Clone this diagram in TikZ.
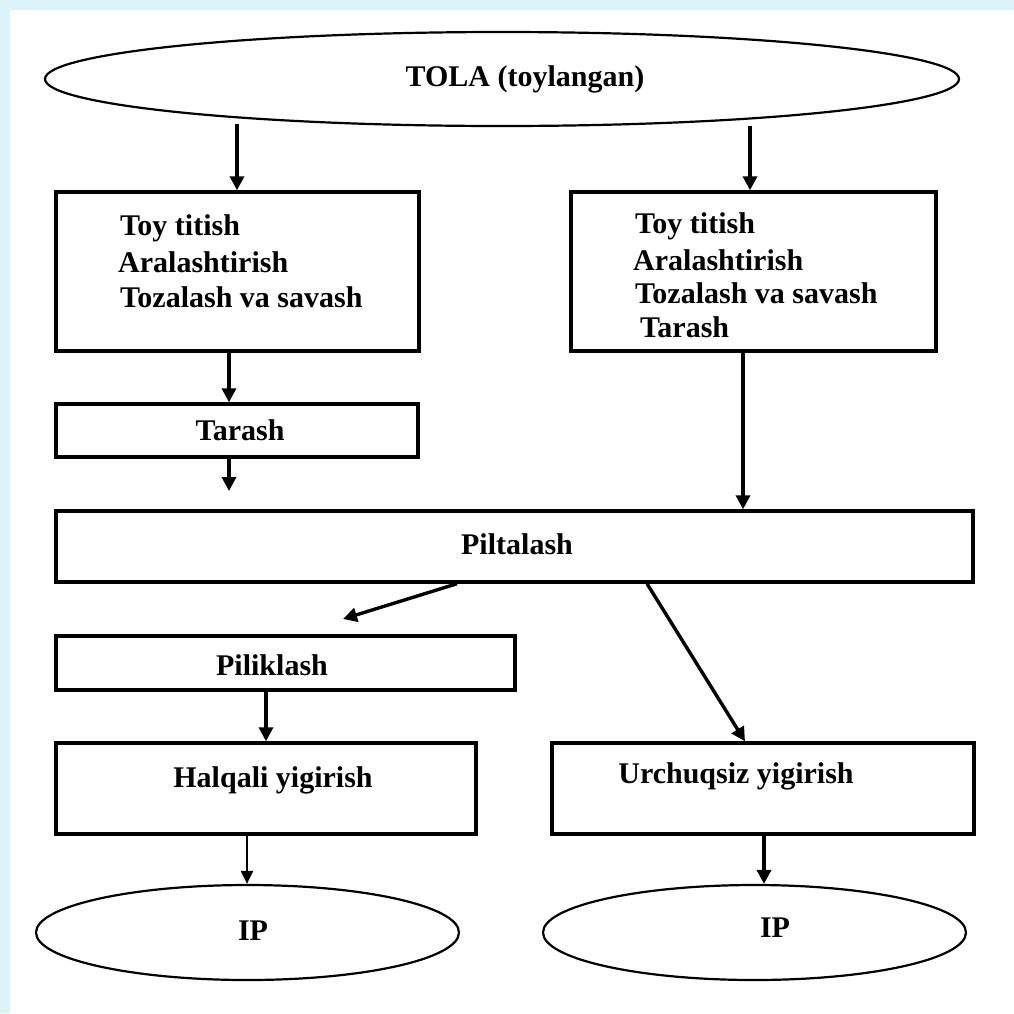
\documentclass[tikz,border=0pt]{standalone}
\usepackage{fontspec}
\setmainfont{Liberation Serif}
\usetikzlibrary{arrows.meta,shapes.geometric}
\definecolor{frameblue}{RGB}{221,243,250}
\tikzset{
  box/.style={draw=black, line width=3.4pt, rectangle, inner sep=0pt, fill=white},
  oval/.style={draw=black, line width=2.2pt, ellipse, inner sep=0pt, fill=white},
  lbl/.style={font=\fontsize{30}{36}\selectfont\bfseries, inner sep=0pt, anchor=base},
  lblw/.style={font=\fontsize{30}{36}\selectfont\bfseries, inner sep=0pt, anchor=base west},
  arr/.style={line width=3.4pt, -{Triangle[length=14pt,width=14pt]}},
  arrthin/.style={line width=2.4pt, -{Triangle[length=13pt,width=12pt]}}
}
\begin{document}
\begin{tikzpicture}[x=1pt,y=-1pt]
\useasboundingbox (0,0) rectangle (1014,1013);
\fill[frameblue] (0,0) rectangle (1014,1013);
\fill[white] (10,10) rectangle (1014,1013);

% shapes
\node[oval, minimum width=914pt, minimum height=94pt] (top) at (502,79) {};
\node[box, minimum width=363pt, minimum height=159pt] (b1) at (237.5,271.5) {};
\node[box, minimum width=365pt, minimum height=159pt] (b2) at (753.5,271.5) {};
\node[box, minimum width=362pt, minimum height=53pt] (tar) at (237,430.5) {};
\node[box, minimum width=917pt, minimum height=71pt] (pilt) at (514.5,546.5) {};
\node[box, minimum width=459pt, minimum height=54pt] (pilik) at (285.5,663) {};
\node[box, minimum width=420pt, minimum height=91pt] (halq) at (266,788.5) {};
\node[box, minimum width=422pt, minimum height=91pt] (urch) at (763,788.5) {};
\node[oval, minimum width=423pt, minimum height=95pt] (ip1) at (247.5,932.5) {};
\node[oval, minimum width=423pt, minimum height=95pt] (ip2) at (754.5,932.5) {};

% texts
\node[lbl] (ttop) at (525,86) {TOLA (toylangan)};
\node[lblw] (t1a) at (120,235) {Toy titish};
\node[lblw] (t1b) at (118,272) {Aralashtirish};
\node[lblw] (t1c) at (120,307) {Tozalash va savash};
\node[lblw] (t2a) at (635,233) {Toy titish};
\node[lblw] (t2b) at (633,270) {Aralashtirish};
\node[lblw] (t2c) at (635,303) {Tozalash va savash};
\node[lblw] (t2d) at (640,337) {Tarash};
\node[lbl] (ttar) at (240,440) {Tarash};
\node[lbl] (tpilt) at (517,554) {Piltalash};
\node[lbl] (tpilik) at (272,675) {Piliklash};
\node[lbl] (thalq) at (273,787) {Halqali yigirish};
\node[lbl] (turch) at (736,783) {Urchuqsiz yigirish};
\node[lbl] (tip1) at (253,940) {IP};
\node[lbl] (tip2) at (775,937) {IP};

% helper coordinates
\coordinate (x229) at (229,0);
\coordinate (x237) at (237,0);
\coordinate (x750) at (750,0);
\coordinate (x743) at (743,0);
\coordinate (x266) at (266,0);
\coordinate (x247) at (247,0);
\coordinate (x764) at (764,0);
\coordinate (tarend) at (229,491);
\coordinate (pstart) at (457,583);
\coordinate (pend) at (343,619);
\coordinate (qstart) at (647,583);
\coordinate (qend) at (745,743);

% connectors
\draw[arr] (top.south -| x237) ++(0,-3) -- (b1.north -| x237);
\draw[arr] (top.south -| x750) ++(0,-1) -- (b2.north -| x750);
\draw[arr] (b1.south -| x229) -- (tar.north -| x229);
\draw[arr] (tar.south -| x229) -- (tarend);
\draw[arr] (b2.south -| x743) -- (pilt.north -| x743);
\draw[arr] (pilt.south -| pstart) -- (pend);
\draw[arr] (pilt.south -| qstart) -- (urch.north -| qend);
\draw[arr] (pilik.south -| x266) -- (halq.north -| x266);
\draw[arrthin] (halq.south -| x247) -- (ip1.north -| x247);
\draw[arr] (urch.south -| x764) -- (ip2.north -| x764);
\end{tikzpicture}
\end{document}
